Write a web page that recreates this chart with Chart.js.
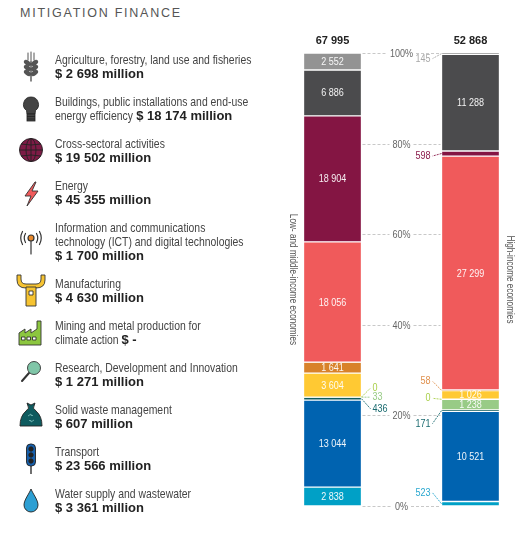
<!DOCTYPE html>
<html>
<head>
<meta charset="utf-8">
<script src="https://cdn.jsdelivr.net/npm/chart.js@4.4.1/dist/chart.umd.min.js"></script>
<style>
  html, body { margin: 0; padding: 0; background: #fff; }
  #wrap { position: relative; width: 521px; height: 535px; overflow: hidden; }
  #c { position: absolute; left: 0; top: 0; }
  #title { position: absolute; left: 20px; top: 6px; font: 12.5px "Liberation Sans", Arial, sans-serif; letter-spacing: 1.75px; color: #555; }
  #legend { position: absolute; left: 16px; top: 53px; z-index: 2; }
  .row { display: flex; align-items: center; margin-bottom: 14px; }
  .icon { width: 30px; height: 28px; flex: none; margin-right: 9px; position: relative; }
  .icon svg { position: absolute; left: 0; top: -1px; overflow: visible; }
  .txt { font: 12.7px "Liberation Sans", Arial, sans-serif; line-height: 14px; color: #444; white-space: nowrap; transform: scaleX(0.82); transform-origin: 0 0; }
  .txt b { display: inline-block; font: bold 13px "Liberation Sans", Arial, sans-serif; color: #222; line-height: 14px; transform: scaleX(1.2195); transform-origin: 0 0; }
</style>
</head>
<body>
<div id="wrap">
  <div id="title">MITIGATION FINANCE</div>
  <div id="legend"></div>
  <canvas id="c" width="521" height="535"></canvas>
</div>
<script>
// ---------- DATA ----------
const categories = [
  'Agriculture, forestry, land use and fisheries',
  'Buildings, public installations and end-use|energy efficiency',
  'Cross-sectoral activities',
  'Energy',
  'Information and communications|technology (ICT) and digital technologies',
  'Manufacturing',
  'Mining and metal production for|climate action',
  'Research, Development and Innovation',
  'Solid waste management',
  'Transport',
  'Water supply and wastewater'
];
const groups = ['Low- and middle-income economies', 'High-income economies'];
const groupTotals = [67995, 52868];
const lowValues  = [2552, 6886, 18904, 18056, 1641, 3604, 0, 33, 436, 13044, 2838];
const highValues = [145, 11288, 598, 27299, 58, 1026, 0, 1238, 171, 10521, 523];
const legendTotals = [2698, 18174, 19502, 45355, 1700, 4630, 0, 1271, 607, 23566, 3361];
const tickValues = [0, 20, 40, 60, 80, 100];
const tickLabels = ['0%', '20%', '40%', '60%', '80%', '100%'];

// ---------- STYLE ----------
const colors = ['#939393', '#4b4b4d', '#841543', '#f05a5b', '#d8822a', '#ffc933', '#a9cf4a', '#98cb86', '#0e5b5f', '#0063b0', '#00a0c6'];
const outsideColors = ['#a8a8a8', '#4b4b4d', '#8a1a4a', '#f05a5b', '#e0914e', '#ffc933', '#a9cf4a', '#98cb86', '#1b6b70', '#0063b0', '#2aa8d0'];
const inlineTotal = [false, true, false, false, false, false, true, false, false, false, false];
// outside label vertical offsets (px) per bar: [left bar, right bar]
const outsideOffsets = {
  0: [0, 5], 2: [0, 2.5], 4: [0, -9], 6: [-9, -1], 7: [0, 0], 8: [10, 13], 10: [0, -11]
};
// segments whose top edge is drawn as a white dotted line: [left bar, right bar]
const dottedTop = { 4: [true, false] };
const SANS = '"Liberation Sans", Arial, sans-serif';
const NARROW_SCALE = 0.82;
const fmt = n => String(n).replace(/\B(?=(\d{3})+(?!\d))/g, ' ');

const icons = [
  '<svg width="30" height="30" viewBox="0 0 30 30"><g stroke="#555" fill="#555" stroke-linecap="round"><line x1="15" y1="9" x2="15" y2="29" stroke-width="1.4"/><line x1="12" y1="1" x2="12" y2="8" stroke-width="1"/><line x1="15" y1="0" x2="15" y2="8" stroke-width="1"/><line x1="18" y1="1" x2="18" y2="8" stroke-width="1"/><ellipse cx="11.5" cy="11" rx="3.6" ry="1.8" transform="rotate(35 11.5 11)"/><ellipse cx="18.5" cy="11" rx="3.6" ry="1.8" transform="rotate(-35 18.5 11)"/><ellipse cx="11.5" cy="16" rx="3.6" ry="1.8" transform="rotate(35 11.5 16)"/><ellipse cx="18.5" cy="16" rx="3.6" ry="1.8" transform="rotate(-35 18.5 16)"/><ellipse cx="11.5" cy="21" rx="3.6" ry="1.8" transform="rotate(35 11.5 21)"/><ellipse cx="18.5" cy="21" rx="3.6" ry="1.8" transform="rotate(-35 18.5 21)"/></g></svg>',
  '<svg width="30" height="30" viewBox="0 0 30 30"><g stroke="#222" stroke-width="0.8"><path d="M15 3 a7.5 7.5 0 0 1 4.5 13.5 L19 20 L11 20 L10.5 16.5 A7.5 7.5 0 0 1 15 3Z" fill="#444"/><rect x="11" y="20" width="8" height="7" fill="#444"/><line x1="11" y1="22.5" x2="19" y2="22.5"/><line x1="11" y1="25" x2="19" y2="25"/></g></svg>',
  '<svg width="30" height="30" viewBox="0 0 30 30"><g stroke="#222" stroke-width="0.9" fill="none"><circle cx="15" cy="14" r="11.5" fill="#7e1b46"/><ellipse cx="15" cy="14" rx="5" ry="11.5"/><line x1="15" y1="2.5" x2="15" y2="25.5"/><line x1="3.5" y1="14" x2="26.5" y2="14"/><path d="M5 8 Q15 10 25 8"/><path d="M5 20 Q15 18 25 20"/></g></svg>',
  '<svg width="30" height="30" viewBox="0 0 30 30"><polygon points="19,4 9,18 15,18 11,28 22,13 16,13 20,4" fill="#f05a5b" stroke="#333" stroke-width="0.9" stroke-linejoin="round"/></svg>',
  '<svg width="30" height="30" viewBox="0 0 30 30"><g stroke="#333" stroke-width="1.2" fill="none" stroke-linecap="round"><line x1="15" y1="14" x2="15" y2="27"/><circle cx="15" cy="11" r="3" fill="#e8892c"/><path d="M9.5 6.5 Q7 11 9.5 15.5"/><path d="M6.5 4.5 Q3 11 6.5 17.5"/><path d="M20.5 6.5 Q23 11 20.5 15.5"/><path d="M23.5 4.5 Q27 11 23.5 17.5"/></g></svg>',
  '<svg width="30" height="30" viewBox="0 0 30 30"><g stroke="#333" stroke-width="0.9" stroke-linejoin="round"><path d="M1 -1 L5 -1 L5 3 Q5 8 10 8 L20 8 Q25 8 25 3 L25 -1 L29 -1 L29 4 Q29 12 20 12 L10 12 Q1 12 1 4 Z" fill="#f6c331"/><rect x="10" y="11" width="10" height="19" fill="#f6c331"/><rect x="13" y="15" width="4" height="4" fill="#fff"/></g></svg>',
  '<svg width="30" height="30" viewBox="0 0 30 30"><g stroke="#333" stroke-width="0.9" stroke-linejoin="round"><path d="M3 27 L3 15 L9 11 L9 15 L15 11 L15 15 L21 11 L21 3 L25 3 L25 27 Z" fill="#8cc63f"/><rect x="5.5" y="19" width="3.5" height="3" fill="#fff"/><rect x="11" y="19" width="3.5" height="3" fill="#fff"/><rect x="16.5" y="19" width="3.5" height="3" fill="#fff"/></g></svg>',
  '<svg width="30" height="30" viewBox="0 0 30 30"><g stroke="#333"><line x1="13" y1="13" x2="6" y2="21" stroke-width="2" stroke-linecap="round"/><circle cx="18" cy="8" r="6.5" fill="#80c6a8" stroke-width="0.9"/></g></svg>',
  '<svg width="30" height="30" viewBox="0 0 30 30"><g stroke="#222" stroke-width="0.9" stroke-linejoin="round"><path d="M12 4 L11 1 L15 3 L19 1 L18 4 Q16 6 20 9 Q26 14 26 24 L4 24 Q4 14 10 9 Q14 6 12 4 Z" fill="#0e5b5f"/><path d="M12 14 l3 -2 l0 1.5 l2 0" fill="none" stroke="#6fb2b0"/><path d="M18 18 l-3 2 l0 -1.5 l-2 0" fill="none" stroke="#6fb2b0"/></g></svg>',
  '<svg width="30" height="30" viewBox="0 0 30 30"><g stroke="#222" stroke-width="0.9"><line x1="15" y1="22" x2="15" y2="30" stroke-width="1.3"/><rect x="10.5" y="0" width="9" height="22" rx="4" fill="#1660ad"/><circle cx="15" cy="5" r="2.2" fill="#222"/><circle cx="15" cy="11" r="2.2" fill="#222"/><circle cx="15" cy="17" r="2.2" fill="#222"/></g></svg>',
  '<svg width="30" height="30" viewBox="0 0 30 30"><path d="M15 3 C13 8 8 14 8 19 A7 7 0 0 0 22 19 C22 14 17 8 15 3 Z" fill="#2d9fd3" stroke="#222" stroke-width="0.9"/></svg>'
];

// ---------- LEGEND ----------
const legendEl = document.getElementById('legend');
categories.forEach((name, i) => {
  const row = document.createElement('div');
  row.className = 'row';
  const ic = document.createElement('div');
  ic.className = 'icon';
  ic.innerHTML = icons[i];
  const tx = document.createElement('div');
  tx.className = 'txt';
  const totalStr = legendTotals[i] === 0 ? '$ -' : '$ ' + fmt(legendTotals[i]) + ' million';
  let html = name.split('|').join('<br>');
  html += inlineTotal[i] ? ' <b>' + totalStr + '</b>' : '<br><b>' + totalStr + '</b>';
  tx.innerHTML = html;
  row.appendChild(ic);
  row.appendChild(tx);
  legendEl.appendChild(row);
});

// ---------- CHART ----------
const series = [lowValues, highValues];
const sums = series.map(s => s.reduce((a, b) => a + b, 0));
const order = categories.map((_, i) => i).reverse(); // bottom -> top

const datasets = order.map(i => ({
  label: categories[i].replace('|', ' '),
  catIndex: i,
  raw: [lowValues[i], highValues[i]],
  data: [lowValues[i] / sums[0] * 100, highValues[i] / sums[1] * 100],
  backgroundColor: colors[i],
  borderColor: 'rgba(255,255,255,0.35)',
  borderWidth: 1,
  borderSkipped: false,
  barThickness: 58,
  clip: false
}));

function narrowText(ctx, text, x, y, size, color, align, rot) {
  ctx.save();
  ctx.font = size + 'px ' + SANS;
  ctx.fillStyle = color;
  ctx.textBaseline = 'middle';
  ctx.textAlign = align;
  ctx.translate(x, y);
  if (rot) ctx.rotate(rot);
  ctx.scale(NARROW_SCALE, 1);
  ctx.fillText(text, 0, 0);
  ctx.restore();
}
function narrowWidth(ctx, text, size) {
  ctx.save();
  ctx.font = size + 'px ' + SANS;
  const w = ctx.measureText(text).width * NARROW_SCALE;
  ctx.restore();
  return w;
}

const decorPlugin = {
  id: 'decor',
  afterDatasetsDraw(chart) {
    const ctx = chart.ctx;
    const y = chart.scales.y;
    const m0 = chart.getDatasetMeta(0);
    const L = m0.data[0].getProps(['x', 'width'], true);
    const R = m0.data[1].getProps(['x', 'width'], true);
    const lRight = L.x + L.width / 2, rLeft = R.x - R.width / 2;
    const lLeft = L.x - L.width / 2, rRight = R.x + R.width / 2;
    const midX = (lRight + rLeft) / 2;

    tickValues.forEach((v, k) => {
      const py = Math.round(y.getPixelForValue(v)) + 0.5;
      const w = narrowWidth(ctx, tickLabels[k], 11);
      ctx.save();
      ctx.strokeStyle = '#c8c8c8';
      ctx.lineWidth = 1;
      ctx.setLineDash([3, 2]);
      ctx.beginPath();
      ctx.moveTo(lRight + 1, py); ctx.lineTo(midX - w / 2 - 3, py);
      ctx.moveTo(midX + w / 2 + 3, py); ctx.lineTo(rLeft - 1, py);
      ctx.stroke();
      ctx.restore();
      narrowText(ctx, tickLabels[k], midX, py, 11, '#666', 'center');
    });

    ctx.save();
    ctx.font = 'bold 11px ' + SANS;
    ctx.fillStyle = '#222';
    ctx.textAlign = 'center';
    ctx.textBaseline = 'middle';
    ctx.fillText(fmt(groupTotals[0]), L.x, 41);
    ctx.fillText(fmt(groupTotals[1]), R.x, 41);
    ctx.restore();

    const cy = (chart.chartArea.top + chart.chartArea.bottom) / 2;
    narrowText(ctx, groups[0], lLeft - 11, cy, 10, '#555', 'center', Math.PI / 2);
    narrowText(ctx, groups[1], rRight + 10, cy, 10, '#555', 'center', Math.PI / 2);

    chart.data.datasets.forEach((ds, di) => {
      const meta = chart.getDatasetMeta(di);
      meta.data.forEach((el, bi) => {
        const p = el.getProps(['x', 'y', 'base', 'width'], true);
        const pct = ds.data[bi];
        const val = ds.raw[bi];
        const mid = (p.y + p.base) / 2;
        if (dottedTop[ds.catIndex] && dottedTop[ds.catIndex][bi]) {
          ctx.save();
          ctx.strokeStyle = '#fff';
          ctx.lineWidth = 1;
          ctx.setLineDash([1, 1]);
          ctx.beginPath();
          ctx.moveTo(p.x - p.width / 2, Math.round(p.y) + 0.5);
          ctx.lineTo(p.x + p.width / 2, Math.round(p.y) + 0.5);
          ctx.stroke();
          ctx.restore();
        }
        if (pct >= 1.5) {
          narrowText(ctx, fmt(val), p.x, mid + 0.5, 11, 'rgba(255,255,255,0.93)', 'center');
        } else {
          const off = (outsideOffsets[ds.catIndex] || [0, 0])[bi];
          const ly = mid + off;
          const col = outsideColors[ds.catIndex];
          ctx.save();
          ctx.strokeStyle = col;
          ctx.lineWidth = 0.9;
          ctx.setLineDash([2, 1]);
          ctx.beginPath();
          if (bi === 0) {
            const ex = p.x + p.width / 2;
            ctx.moveTo(ex, mid); ctx.lineTo(ex + 9, ly);
            ctx.stroke();
            ctx.restore();
            narrowText(ctx, fmt(val), ex + 11, ly, 11, col, 'left');
          } else {
            const ex = p.x - p.width / 2;
            ctx.moveTo(ex, mid); ctx.lineTo(ex - 9, ly);
            ctx.stroke();
            ctx.restore();
            narrowText(ctx, fmt(val), ex - 11, ly, 11, col, 'right');
          }
        }
      });
    });
  }
};

new Chart(document.getElementById('c'), {
  type: 'bar',
  data: { labels: groups, datasets },
  options: {
    responsive: false,
    animation: false,
    layout: { padding: { left: 332.5, right: 50.5, top: 53, bottom: 29 } },
    plugins: { legend: { display: false }, tooltip: { enabled: false } },
    scales: {
      x: { stacked: true, display: false, offset: false },
      y: { stacked: true, display: false, min: 0, max: 100 }
    }
  },
  plugins: [decorPlugin]
});
</script>
</body>
</html>
